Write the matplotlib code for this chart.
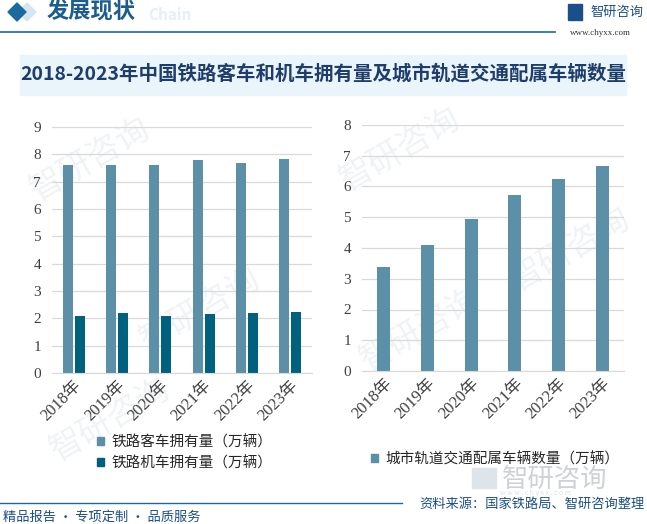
import numpy as np
import matplotlib.pyplot as plt
from matplotlib.patches import Rectangle, Patch, Polygon

plt.rcParams['font.family'] = ['Noto Sans CJK SC', 'DejaVu Sans']

years = ['2018年', '2019年', '2020年', '2021年', '2022年', '2023年']
passenger = [7.62, 7.62, 7.62, 7.80, 7.70, 7.84]
locomotive = [2.10, 2.21, 2.10, 2.17, 2.21, 2.24]
metro = [3.38, 4.10, 4.94, 5.72, 6.24, 6.67]

c_light = '#5b90a8'
c_dark = '#00617f'
W, H = 647, 524

def fx(px):
    return px / W

def fy(py):
    return 1 - py / H

fig = plt.figure(figsize=(6.47, 5.24), dpi=100)

# header
fig.patches.append(Polygon([[fx(18), fy(12)], [fx(27), fy(3)], [fx(36), fy(12)], [fx(27), fy(21)]],
                           closed=True, transform=fig.transFigure, color='#d6e6f1'))
fig.patches.append(Polygon([[fx(8), fy(12)], [fx(17), fy(3)], [fx(26), fy(12)], [fx(17), fy(21)]],
                           closed=True, transform=fig.transFigure, color='#1a6aa0'))
fig.text(fx(148), fy(15), 'Chain', fontsize=11, color='#e2f0f8', weight='bold', va='center')
fig.text(fx(47), fy(12), '发展现状', fontsize=16, color='#1b5e8e', weight='bold', va='center')
fig.add_artist(plt.Line2D([0, fx(555)], [fy(32), fy(32)], color='#1a6aa0', lw=1.2))
fig.text(fx(590), fy(12), '智研咨询', fontsize=9.5, color='#1b4f8a', va='center')
fig.text(fx(570), fy(33), 'www.chyxx.com', fontsize=6.5, color='#333333', va='center',
         family=['Liberation Serif'])
fig.patches.append(Rectangle((fx(568), fy(20)), fx(14), 16 / H, transform=fig.transFigure,
                             color='#1b4f8a'))

# title band
fig.patches.append(Rectangle((fx(20), fy(95)), fx(606), 40 / H, transform=fig.transFigure,
                             color='#e9f5fb', zorder=-2))
fig.text(fx(323), fy(74), '2018-2023年中国铁路客车和机车拥有量及城市轨道交通配属车辆数量',
         fontsize=14, color='#1f3d6b', weight='bold', ha='center', va='center')

# watermarks
for (wx, wy) in [(90, 160), (110, 420), (200, 310), (400, 150), (420, 330), (570, 250)]:
    fig.text(fx(wx), fy(wy), '智研咨询', fontsize=24, color='#f0f3f6', rotation=30,
             ha='center', va='center', zorder=-1)

tick_font = ['Liberation Serif', 'Noto Sans CJK SC']
x = np.arange(len(years))

def style(ax, ymax):
    ax.set_xlim(-0.5, 5.5)
    ax.set_ylim(0, ymax)
    ax.set_yticks(range(0, ymax + 1))
    ax.yaxis.grid(True, color='#d9d9d9', lw=0.9)
    ax.set_axisbelow(True)
    for s in ['top', 'right', 'left']:
        ax.spines[s].set_visible(False)
    ax.spines['bottom'].set_color('#d9d9d9')
    ax.tick_params(length=0, colors='#404040')
    ax.tick_params(axis='y', labelsize=11, pad=8)
    ax.set_xticks(x)
    ax.set_xticklabels(years, rotation=45, ha='right', rotation_mode='anchor',
                       family=tick_font, fontsize=12)
    for t in ax.get_yticklabels():
        t.set_family(tick_font)
    ax.patch.set_alpha(0)

ax1 = fig.add_axes([fx(52), fy(373), fx(260), 246 / H])
ax1.bar(x - 0.14, passenger, width=0.23, color=c_light)
ax1.bar(x + 0.14, locomotive, width=0.23, color=c_dark)
style(ax1, 9)

ax2 = fig.add_axes([fx(362), fy(371), fx(262), 246 / H])
ax2.bar(x, metro, width=0.3, color=c_light)
style(ax2, 8)

fig.legend([Patch(color=c_light), Patch(color=c_dark)],
           ['铁路客车拥有量（万辆）', '铁路机车拥有量（万辆）'],
           loc='upper left', bbox_to_anchor=(fx(84), fy(422)), frameon=False,
           handlelength=0.5, handleheight=0.5, handletextpad=0.5, labelspacing=0.45,
           fontsize=10.5, labelcolor='#262626')
fig.legend([Patch(color=c_light)], ['城市轨道交通配属车辆数量（万辆）'],
           loc='upper left', bbox_to_anchor=(fx(358), fy(439)), frameon=False,
           handlelength=0.5, handleheight=0.5, handletextpad=0.5,
           fontsize=10.5, labelcolor='#262626')

# footer
fig.patches.append(Rectangle((fx(472), fy(488)), fx(24), 20 / H, transform=fig.transFigure,
                             color='#dde4ea', zorder=-1))
fig.text(fx(502), fy(479), '智研咨询', fontsize=19, color='#cdd2d6', va='center', zorder=-1)
fig.text(fx(500), fy(493), 'w w w . c h y x x . c o m', fontsize=5, color='#dde1e4',
         va='center', zorder=-1)
fig.add_artist(plt.Line2D([0, fx(402)], [fy(503), fy(503)], color='#1a6aa0', lw=1))
fig.text(fx(3), fy(517), '精品报告 · 专项定制 · 品质服务', fontsize=9.5, color='#1b4f8a', va='center')
fig.text(fx(645), fy(504), '资料来源：国家铁路局、智研咨询整理', fontsize=9.5, color='#1b4f8a',
         ha='right', va='center')

fig.savefig('out.png', dpi=100)
